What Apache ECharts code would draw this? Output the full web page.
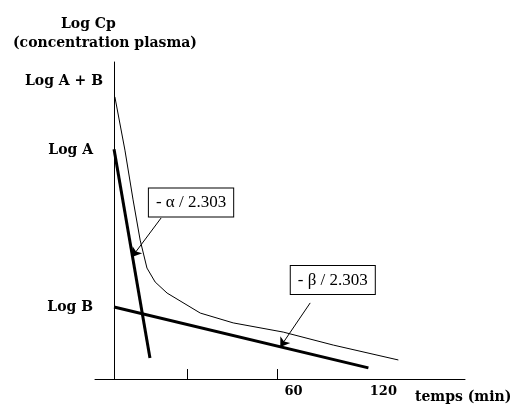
<!DOCTYPE html>
<html>
<head>
<meta charset="utf-8">
<script src="https://cdn.jsdelivr.net/npm/echarts@6/dist/echarts.min.js"></script>
<style>
	html, body { margin: 0; padding: 0; background: #fff; }
	#chart { width: 515px; height: 409px; }
</style>
</head>
<body>
<div id="chart"></div>
<script>
// courbe bi-exponentielle (log Cp) - temps en unites de l'axe
var curveT = [0.3, 4.0, 7.0, 9.6, 12.1, 15.1, 19.5, 31.7, 43.8, 62.2, 80.6, 104.5];
var curveY = [89.0, 72.2, 56.5, 43.8, 35.0, 30.6, 27.1, 20.8, 17.7, 14.8, 10.7, 6.0];
// droite alpha (phase de distribution)
var alphaT = [0, 13.2];
var alphaY = [72.5, 6.6];
// droite beta (phase d'elimination)
var betaT = [0, 93.5];
var betaY = [22.7, 3.5];

// axe des y : niveaux marques
var yTickVals = [22.7, 72.2, 94];
var yTickText = ['Log B', 'Log A', 'Log A + B'];
// axe des x
var xTickVals = [27, 60];
var xLabelVals = [66, 99];
var xLabelText = ['60', '120'];

// annotations : [texte, position boite, debut fleche, fin fleche]
var noteText = ['- \u03b1 / 2.303', '- \u03b2 / 2.303'];
var noteBox = [[28.3, 55.7], [80.4, 31.2]];
var noteFrom = [[17.3, 50.8], [72.1, 24.0]];
var noteTo = [[6.6, 38.5], [61.1, 10.1]];

function zip(a, b) {
	var r = [];
	for (var i = 0; i < a.length; i++) {
		r.push([a[i], b[i]]);
	}
	return r;
}

var boldFont = '"DejaVu Serif", serif';
var boxFont = '"Liberation Serif", serif';

var myChart = echarts.init(document.getElementById('chart'));
var option = {
	animation: false,
	title: [
		{ text: 'Log Cp', left: 56, top: 12, textStyle: { fontFamily: boldFont, fontSize: 14, fontWeight: 'bold', color: '#000' } },
		{ text: '(concentration plasma)', left: 8, top: 31, textStyle: { fontFamily: boldFont, fontSize: 14, fontWeight: 'bold', color: '#000' } }
	],
	grid: { left: 95, right: 50, top: 62, bottom: 30 },
	xAxis: {
		type: 'value',
		min: -7,
		max: 129,
		splitLine: { show: false },
		axisLine: { lineStyle: { color: '#000', width: 1 } },
		axisTick: { show: true, inside: true, length: 10, customValues: xTickVals, lineStyle: { color: '#000' } },
		axisLabel: {
			customValues: xLabelVals,
			margin: 6,
			color: '#000',
			fontFamily: boldFont,
			fontSize: 13,
			fontWeight: 'bold',
			formatter: function (v) {
				var i = xLabelVals.indexOf(v);
				return i >= 0 ? xLabelText[i] : '';
			}
		},
		name: 'temps (min)',
		nameLocation: 'end',
		nameGap: -50,
		nameTextStyle: { fontFamily: boldFont, fontSize: 14, fontWeight: 'bold', color: '#000', verticalAlign: 'top', padding: [11, 0, 0, 0] }
	},
	yAxis: {
		type: 'value',
		min: 0,
		max: 100,
		splitLine: { show: false },
		axisLine: { onZero: true, lineStyle: { color: '#000', width: 1 } },
		axisTick: { show: false },
		axisLabel: {
			customValues: yTickVals,
			margin: -8,
			color: '#000',
			fontFamily: boldFont,
			fontSize: 14,
			fontWeight: 'bold',
			formatter: function (v) {
				var i = yTickVals.indexOf(v);
				if (i < 0) return '';
				return i == 2 ? yTickText[i] : '{p|' + yTickText[i] + '}';
			},
			rich: {
				p: { fontFamily: boldFont, fontSize: 14, fontWeight: 'bold', color: '#000', padding: [0, 10, 0, 0] }
			}
		}
	},
	series: [
		{
			type: 'line',
			data: zip(curveT, curveY),
			showSymbol: false,
			lineStyle: { color: '#000', width: 1 }
		},
		{
			type: 'line',
			data: zip(alphaT, alphaY),
			showSymbol: false,
			lineStyle: { color: '#000', width: 3 }
		},
		{
			type: 'line',
			data: zip(betaT, betaY),
			showSymbol: false,
			lineStyle: { color: '#000', width: 3 },
			markLine: {
				silent: true,
				symbol: ['none', 'arrow'],
				symbolSize: 9,
				lineStyle: { color: '#000', width: 1, type: 'solid' },
				label: { show: false },
				data: [
					[{ coord: noteFrom[0] }, { coord: noteTo[0] }],
					[{ coord: noteFrom[1] }, { coord: noteTo[1] }]
				]
			},
			markPoint: {
				silent: true,
				symbol: 'rect',
				symbolSize: 0,
				label: {
					show: true,
					position: 'inside',
					color: '#000',
					fontFamily: boxFont,
					fontSize: 17,
					backgroundColor: '#fff',
					borderColor: '#000',
					borderWidth: 1,
					padding: [6, 7, 5, 7],
					formatter: function (p) {
						return p.name;
					}
				},
				data: [
					{ name: noteText[0], coord: noteBox[0] },
					{ name: noteText[1], coord: noteBox[1] }
				]
			}
		}
	]
};
myChart.setOption(option);
</script>
</body>
</html>
